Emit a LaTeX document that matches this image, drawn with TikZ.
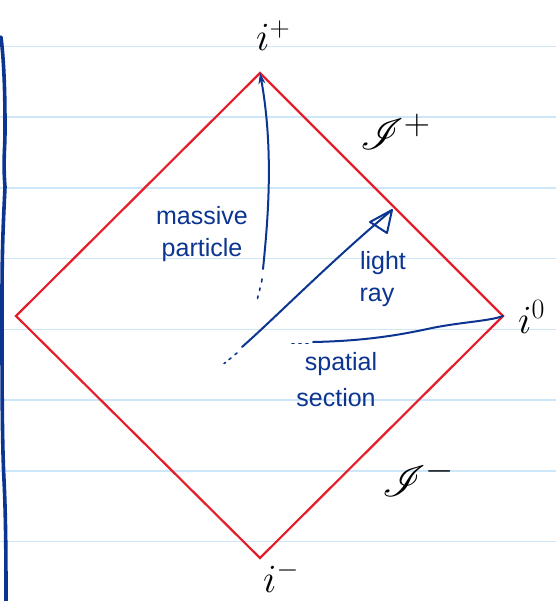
\RequirePackage{fix-cm}
\documentclass[tikz,border=0pt]{standalone}
\usepackage{graphicx}
\usepackage{fontspec}
\usepackage{mathrsfs}
\newfontfamily\handfont{Liberation Sans}
\usetikzlibrary{arrows.meta}
\definecolor{paperline}{HTML}{CDE6F8}
\definecolor{ink}{HTML}{0B3591}
\definecolor{diagred}{HTML}{E51E2B}
\tikzset{
  ruled/.style={paperline, line width=1.6pt},
  margin/.style={ink, line width=3.6pt, line cap=round},
  border/.style={diagred, line width=2.2pt, line join=miter},
  worldline/.style={ink, line width=2pt, line cap=round},
  dotmark/.style={ink, line width=1.6pt, line cap=round},
  hand/.style={ink, font=\handfont\fontsize{25}{29}\selectfont, align=center, inner sep=0pt},
  infty/.style={black, font=\fontsize{40}{46}\selectfont, inner sep=0pt, anchor=base west},
  scri/.style={black, font=\fontsize{24.88}{28}\selectfont, inner sep=0pt, anchor=base west}
}
\begin{document}
\begin{tikzpicture}[x=1pt,y=-1pt]
\useasboundingbox (0,0) rectangle (556,601);
\fill[white] (0,0) rectangle (556,601);
% ruled paper
\foreach \yy in {46.5,117.2,187.9,258.6,329.3,400,470.7,541.4}
  \draw[ruled] (0,\yy) -- (556,\yy);
% margin line
\draw[margin] (1,37) .. controls (5,70) and (5,110) .. (5,130) .. controls (5,150) and (3,160) .. (5,187) .. controls (4,210) and (2,240) .. (2,300) .. controls (2,380) and (2,440) .. (4,480) .. controls (6,520) and (6,570) .. (6,605);
% diamond
\coordinate (top) at (260,73);
\coordinate (right) at (503,316);
\coordinate (bot) at (260,558);
\coordinate (left) at (16,316);
\draw[border] (top) -- (right) -- (bot) -- (left) -- cycle;
% massive particle
\coordinate (mp0) at (263,269);
\draw[worldline, -{Stealth[length=11pt,width=7pt]}] (mp0) .. controls (268,220) and (274,150) .. (top);
\coordinate (mpd1) at (262,279); \coordinate (mpd1e) at (261.6,282);
\coordinate (mpd2) at (260,288); \coordinate (mpd2e) at (259.6,290.5);
\coordinate (mpd3) at (258,296); \coordinate (mpd3e) at (257.6,298.5);
\draw[dotmark] (mpd1) -- (mpd1e);
\draw[dotmark] (mpd2) -- (mpd2e);
\draw[dotmark] (mpd3) -- (mpd3e);
% light ray
\coordinate (lr0) at (242,347);
\coordinate (lr1) at (392,210);
\coordinate (ah1) at (370,222);
\coordinate (ah2) at (387,233);
\draw[worldline] (lr0) .. controls (275,318) and (330,262) .. (lr1);
\draw[worldline, line join=round] (ah1) -- (lr1) -- (ah2) -- cycle;
\coordinate (lrd1) at (237,353); \coordinate (lrd1e) at (235,354.5);
\coordinate (lrd2) at (231,358); \coordinate (lrd2e) at (229,359.5);
\coordinate (lrd3) at (225.5,362.5); \coordinate (lrd3e) at (224,363.5);
\draw[dotmark] (lrd1) -- (lrd1e);
\draw[dotmark] (lrd2) -- (lrd2e);
\draw[dotmark] (lrd3) -- (lrd3e);
% spatial section
\coordinate (ss0) at (313,342);
\coordinate (ssm) at (432,328);
\draw[worldline] (ss0) .. controls (365,341) and (400,335) .. (ssm) .. controls (462,322) and (490,321) .. (right);
\coordinate (ssd1) at (292,343.5); \coordinate (ssd1e) at (294,343.5);
\coordinate (ssd2) at (299,343.5); \coordinate (ssd2e) at (301,343.5);
\coordinate (ssd3) at (306,343.5); \coordinate (ssd3e) at (308,343.5);
\draw[dotmark] (ssd1) -- (ssd1e);
\draw[dotmark] (ssd2) -- (ssd2e);
\draw[dotmark] (ssd3) -- (ssd3e);
% handwritten labels
\node[hand] (massive) at (202,216) {massive};
\node[hand] (particle) at (202,250) {particle};
\node[hand] (light) at (383,263) {light};
\node[hand] (ray) at (377,297) {ray};
\node[hand] (spatial) at (341,364) {spatial};
\node[hand] (section) at (336,398) {section};
% infinities
\node[infty] (iplus) at (256,51) {$i^{+}$};
\node[infty] (izero) at (518,333) {$i^{0}$};
\node[infty] (iminus) at (263,592) {$i^{-}$};
\node[scri] (scriplus) at (360,150) {\scalebox{1.75}{$\mathscr{I}^{+}$}};
\node[scri] (scriminus) at (382,496) {\scalebox{1.75}{$\mathscr{I}^{-}$}};
\end{tikzpicture}
\end{document}
